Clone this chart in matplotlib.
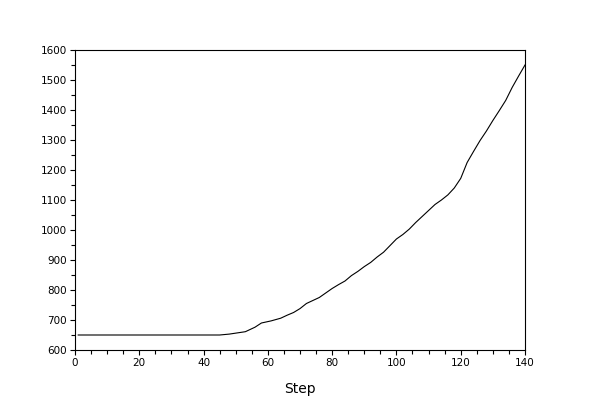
import matplotlib
matplotlib.use("Agg")
import matplotlib.pyplot as plt
from matplotlib.ticker import MultipleLocator

# values
steps = [1, 45, 48, 53, 56, 58, 61, 64, 66, 68, 70, 72, 74, 76, 78, 80, 82, 84,
         86, 88, 90, 92, 94, 96, 98, 100, 102, 104, 106, 108, 110, 112, 114,
         116, 118, 120, 122, 124, 126, 128, 130, 132, 134, 136, 138, 140]
values = [650, 650, 653, 661, 676, 690, 697, 706, 716, 725, 738, 755, 765, 775,
          790, 805, 818, 830, 848, 862, 878, 892, 910, 926, 948, 970, 985, 1003,
          1025, 1045, 1065, 1085, 1100, 1117, 1140, 1172, 1225, 1262, 1298, 1330,
          1365, 1398, 1432, 1475, 1513, 1550]

fig = plt.figure(figsize=(6, 4), dpi=100)
ax = fig.add_axes([0.125, 0.125, 0.75, 0.75])

ax.plot(steps, values, color="black", linewidth=0.8)

ax.set_xlim(0, 140)
ax.set_ylim(600, 1600)
ax.xaxis.set_major_locator(MultipleLocator(20))
ax.xaxis.set_minor_locator(MultipleLocator(5))
ax.yaxis.set_major_locator(MultipleLocator(100))
ax.yaxis.set_minor_locator(MultipleLocator(50))

ax.tick_params(which="both", direction="out", top=False, right=False,
               labelsize=7.5, width=0.8, pad=2)
ax.tick_params(which="major", length=3.6)
ax.tick_params(which="minor", length=3.0)
for sp in ax.spines.values():
    sp.set_linewidth(0.8)

ax.set_xlabel("Step", fontsize=10, labelpad=10)

fig.savefig("out.png", dpi=100)
